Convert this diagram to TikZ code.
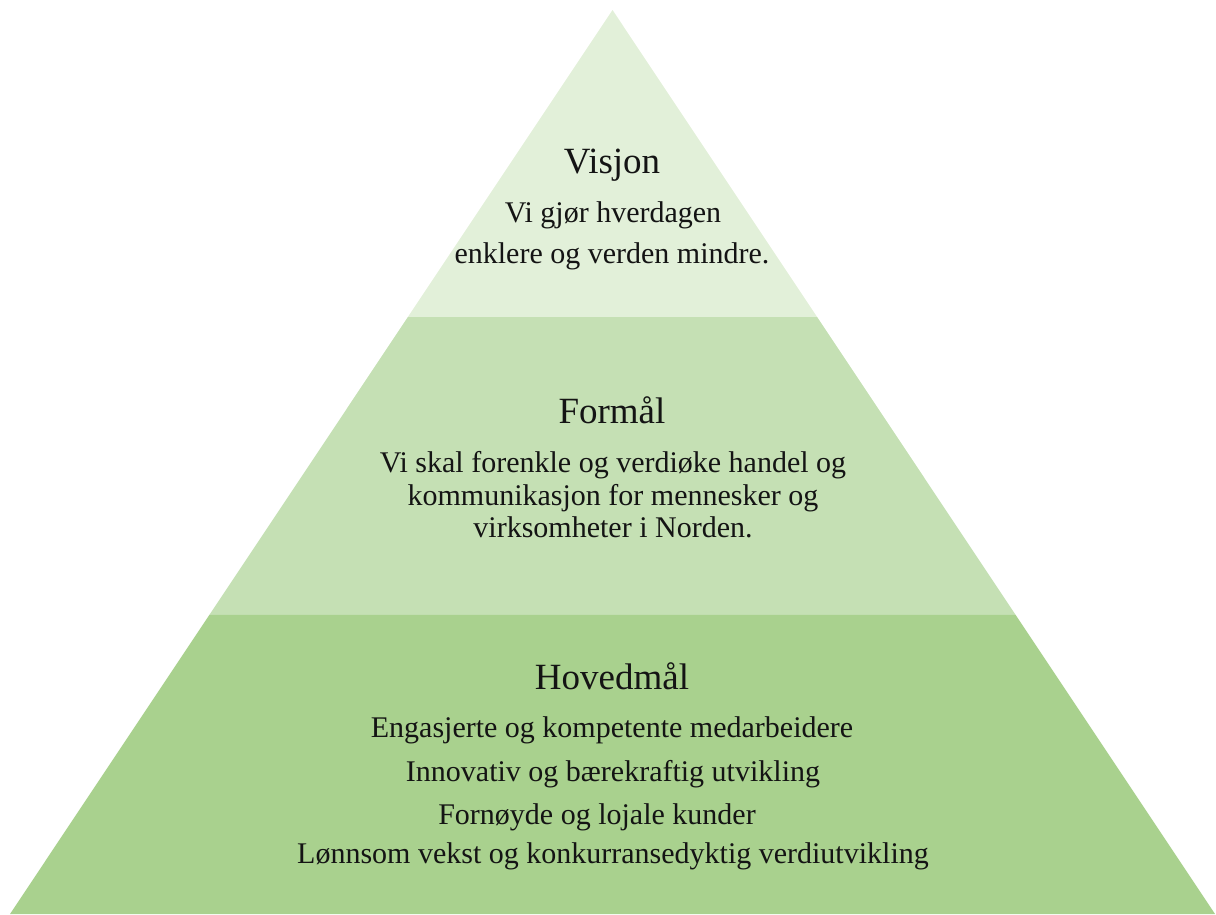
\documentclass[tikz,border=0pt]{standalone}
\usepackage{fontspec}
\setmainfont{Liberation Serif}
\usetikzlibrary{calc}
\definecolor{bandtop}{HTML}{E2F0D9}
\definecolor{bandmid}{HTML}{C5E0B4}
\definecolor{bandlow}{HTML}{A9D18E}
\definecolor{inkdark}{HTML}{141414}
\tikzset{
  heading/.style={font=\fontsize{37}{44}\selectfont, text=inkdark, anchor=base, inner sep=0pt},
  bodyline/.style={font=\fontsize{30}{36}\selectfont, text=inkdark, anchor=base, inner sep=0pt},
}
\begin{document}
\begin{tikzpicture}[x=1pt,y=-1pt]
\useasboundingbox (0,0) rectangle (1216,914);
% pyramid outline
\coordinate (apex) at (612.5,10);
\coordinate (bl) at (10,914);
\coordinate (br) at (1215,914);
\coordinate (l1) at ($(apex)!0.3396!(bl)$);
\coordinate (r1) at ($(apex)!0.3396!(br)$);
\coordinate (l2) at ($(apex)!0.6692!(bl)$);
\coordinate (r2) at ($(apex)!0.6692!(br)$);
% three tiers
\fill[bandtop] (apex) -- (r1) -- (l1) -- cycle;
\fill[bandmid] (l1) -- (r1) -- (r2) -- (l2) -- cycle;
\fill[bandlow] (l2) -- (r2) -- (br) -- (bl) -- cycle;
% top tier
\node[heading] (visjon) at (612,173) {Visjon};
\node[bodyline] (v1) at (613,222) {Vi gjør hverdagen};
\node[bodyline] (v2) at (612,263) {enklere og verden mindre.};
% middle tier
\node[heading] (formal) at (612,423) {Formål};
\node[bodyline] (f1) at (613,472) {Vi skal forenkle og verdiøke handel og};
\node[bodyline] (f2) at (613,505) {kommunikasjon for mennesker og};
\node[bodyline] (f3) at (613,537) {virksomheter i Norden.};
% bottom tier
\node[heading] (hoved) at (612,689) {Hovedmål};
\node[bodyline] (h1) at (612,737) {Engasjerte og kompetente medarbeidere};
\node[bodyline] (h2) at (613,781) {Innovativ og bærekraftig utvikling};
\node[bodyline] (h3) at (597,824) {Fornøyde og lojale kunder};
\node[bodyline] (h4) at (613,863) {Lønnsom vekst og konkurransedyktig verdiutvikling};
\end{tikzpicture}
\end{document}
